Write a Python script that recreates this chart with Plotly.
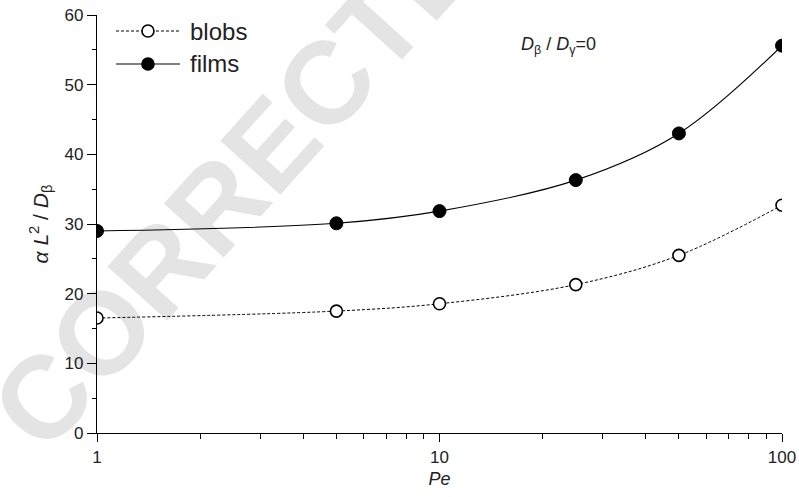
import plotly.graph_objects as go

pe = [1, 5, 10, 25, 50, 100]
blobs = [16.5, 17.5, 18.55, 21.3, 25.5, 32.7]
films = [29.0, 30.1, 31.85, 36.3, 43.0, 55.6]
series_names = ["blobs", "films"]

x_ticks = [1, 10, 100]
y_ticks = [0, 10, 20, 30, 40, 50, 60]

FONT = "Liberation Sans, Arial, Helvetica, sans-serif"
TXT = "#222"

fig = go.Figure()
fig.add_trace(go.Scatter(
    x=pe, y=blobs, name=series_names[0], mode="lines+markers", showlegend=False,
    line=dict(color="black", width=1, dash="3px,2px", shape="spline", smoothing=1),
    marker=dict(symbol="circle", size=12, color="white", line=dict(color="black", width=1.6)),
))
fig.add_trace(go.Scatter(
    x=pe, y=films, name=series_names[1], mode="lines+markers", showlegend=False,
    line=dict(color="black", width=1.1, shape="spline", smoothing=1),
    marker=dict(symbol="circle", size=13, color="black", line=dict(color="black", width=1)),
))

# watermark behind data
fig.add_shape(
    type="line", xref="paper", yref="paper",
    x0=-0.1372, y0=0.0167, x1=1.034, y1=2.151,
    line=dict(color="rgba(0,0,0,0)", width=0), layer="below",
    label=dict(text="<b>CORRECTED PROOF</b>", textposition="middle", yanchor="middle",
               font=dict(family=FONT, size=117, color="#e4e4e4")),
)

# manual legend (long line samples as in the reference)
leg_rows = [
    (series_names[0], 0.9617, dict(color="black", width=1, dash="3px,2px"), "white"),
    (series_names[1], 0.8828, dict(color="black", width=1.1), "black"),
]
for name, yy, ln, fill in leg_rows:
    fig.add_shape(type="line", xref="paper", yref="paper",
                  x0=0.0277, x1=0.1211, y0=yy, y1=yy, line=ln)
    fig.add_shape(type="circle", xref="paper", yref="paper",
                  xsizemode="pixel", ysizemode="pixel",
                  xanchor=0.0744, yanchor=yy, x0=-6, x1=6, y0=-6, y1=6,
                  fillcolor=fill, line=dict(color="black", width=1.6))
    fig.add_annotation(x=0.1328, y=yy, xref="paper", yref="paper", showarrow=False,
                       text=name, xanchor="left", yanchor="middle",
                       font=dict(family=FONT, size=24, color=TXT))

fig.add_annotation(
    x=0.673, y=0.928, xref="paper", yref="paper", showarrow=False,
    text="<i>D</i><sub>β</sub> / <i>D</i><sub>γ</sub>=0",
    font=dict(family=FONT, size=18, color=TXT), xanchor="center", yanchor="middle",
)

fig.update_layout(
    width=799, height=497,
    margin=dict(l=97, r=17, t=15, b=64),
    paper_bgcolor="white", plot_bgcolor="rgba(0,0,0,0)",
    font=dict(family=FONT, size=17, color=TXT),
    showlegend=False,
    xaxis=dict(
        type="log", range=[0, 2], tickvals=x_ticks, ticktext=[str(v) for v in x_ticks],
        automargin=False, ticklabeloverflow="allow",
        showline=True, linecolor="black", linewidth=1.2, showgrid=False, zeroline=False,
        ticks="outside", ticklen=8, tickcolor="black", tickwidth=1,
        tickfont=dict(size=17),
        minor=dict(ticks="outside", ticklen=5, tickcolor="black", dtick="D1", showgrid=False),
        title=dict(text="<i>Pe</i>", font=dict(size=18), standoff=6),
    ),
    yaxis=dict(
        range=[0, 60], tickvals=y_ticks, automargin=False, ticklabeloverflow="allow",
        showline=True, linecolor="black", linewidth=1.2, showgrid=False, zeroline=False,
        ticks="outside", ticklen=9, tickcolor="black", tickwidth=1,
        tickfont=dict(size=17),
        minor=dict(ticks="outside", ticklen=4, tickcolor="black", dtick=5, showgrid=False),
        title=dict(text="<i>α L</i><sup>2</sup> / <i>D</i><sub>β</sub>", font=dict(size=21), standoff=10),
    ),
)

fig.write_html("out.html")
